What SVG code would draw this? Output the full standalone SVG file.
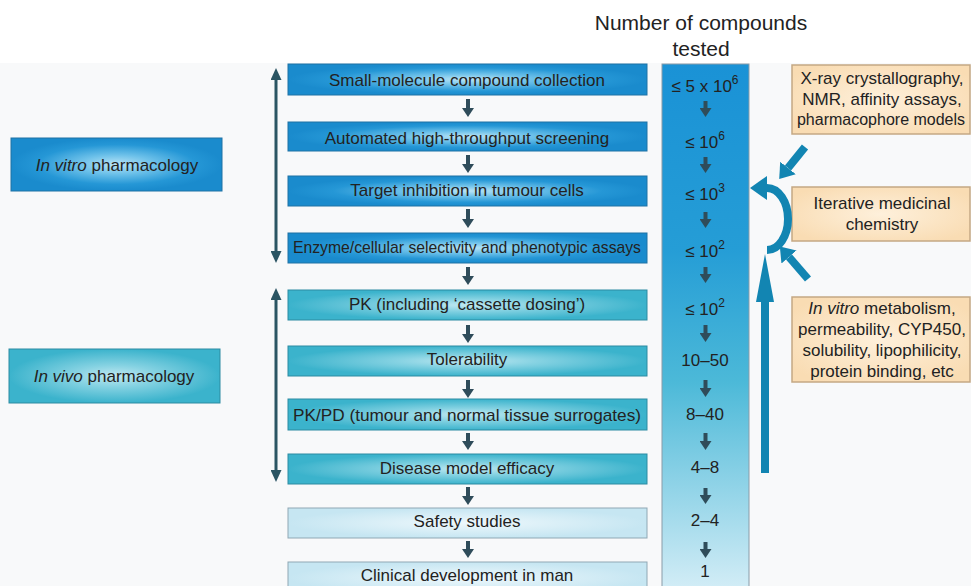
<svg xmlns="http://www.w3.org/2000/svg" width="971" height="586" viewBox="0 0 971 586">
<defs>
<radialGradient id="gVitro" cx="0.5" cy="0.5" r="0.5">
<stop offset="0" stop-color="#b9e4f6"/><stop offset="0.35" stop-color="#6fc2ea"/><stop offset="0.75" stop-color="#2597d6"/><stop offset="1" stop-color="#1a8bcd"/>
</radialGradient>
<radialGradient id="gVivo" cx="0.5" cy="0.5" r="0.5">
<stop offset="0" stop-color="#bfe8f1"/><stop offset="0.4" stop-color="#85d2e2"/><stop offset="1" stop-color="#3bb3cc"/>
</radialGradient>
<radialGradient id="gLight" cx="0.5" cy="0.5" r="0.5">
<stop offset="0" stop-color="#eef8fc"/><stop offset="1" stop-color="#c6e6f2"/>
</radialGradient>
<radialGradient id="gPeach" cx="0.5" cy="0.5" r="0.6">
<stop offset="0" stop-color="#fef0db"/><stop offset="1" stop-color="#f9dcb3"/>
</radialGradient>
<linearGradient id="gCol" x1="0" y1="0" x2="0" y2="1">
<stop offset="0" stop-color="#1a92d6"/><stop offset="0.35" stop-color="#259dd6"/><stop offset="0.6" stop-color="#4cb9d8"/><stop offset="1" stop-color="#d6eef7"/>
</linearGradient>
<marker id="mSmall" markerUnits="userSpaceOnUse" viewBox="0 0 9 12" markerWidth="9" markerHeight="12" refX="0" refY="6" orient="auto">
<path d="M0,0 L9,6 L0,12 z" fill="#2f4c5a"/>
</marker>
<marker id="mDbl" markerUnits="userSpaceOnUse" viewBox="0 0 12 11" markerWidth="12" markerHeight="11" refX="0" refY="5.5" orient="auto-start-reverse">
<path d="M0,0 L12,5.5 L0,11 z" fill="#2b5563"/>
</marker>
<marker id="mDiag" markerUnits="userSpaceOnUse" viewBox="0 0 14 20" markerWidth="14" markerHeight="20" refX="0" refY="10" orient="auto">
<path d="M0,0 L14,10 L0,20 z" fill="#1285b2"/>
</marker>
<marker id="mCurve" markerUnits="userSpaceOnUse" viewBox="0 0 17 24" markerWidth="17" markerHeight="24" refX="0" refY="12" orient="auto">
<path d="M0,0 L17,12 L0,24 z" fill="#1285b2"/>
</marker>
<marker id="mUp" markerUnits="userSpaceOnUse" viewBox="0 0 48 18" markerWidth="48" markerHeight="18" refX="0" refY="9" orient="auto">
<path d="M0,0 L48,9 L0,18 z" fill="#1285b2"/>
</marker>
</defs>
<style>
.t{font-family:"Liberation Sans",Arial,Helvetica,sans-serif;font-size:17px;fill:#222;text-anchor:middle}
.hd{font-size:21px}
.sup{font-size:12px}
.vitro{fill:url(#gVitro);stroke:#1f72a4;stroke-width:1}
.vivo{fill:url(#gVivo);stroke:#2c8ba1;stroke-width:1}
.light{fill:url(#gLight);stroke:#8fa8b4;stroke-width:1}
.peach{fill:url(#gPeach);stroke:#c4a884;stroke-width:1.5}
.col{fill:url(#gCol);stroke:#8a9ca8;stroke-width:1}
.arr{stroke:#2f4c5a;stroke-width:4;fill:none;marker-end:url(#mSmall)}
.dbl{stroke:#2b5563;stroke-width:3;fill:none;marker-start:url(#mDbl);marker-end:url(#mDbl)}
.big{stroke:#1285b2;stroke-width:8;fill:none}
</style>
<rect x="0" y="0" width="971" height="586" fill="#ffffff"/>
<rect x="0" y="63" width="971" height="523" fill="#f8f9fa"/>

<g id="header">
<text class="t hd" x="701" y="30">Number of compounds</text>
<text class="t hd" x="701" y="56">tested</text>
</g>

<g id="column">
<rect class="col" x="662" y="64" width="87" height="530"/>
<text class="t" x="705" y="92">≤ 5 x 10<tspan class="sup" dy="-8">6</tspan></text>
<text class="t" x="705" y="148">≤ 10<tspan class="sup" dy="-8">6</tspan></text>
<text class="t" x="705" y="200">≤ 10<tspan class="sup" dy="-8">3</tspan></text>
<text class="t" x="705" y="257">≤ 10<tspan class="sup" dy="-8">2</tspan></text>
<text class="t" x="705" y="315">≤ 10<tspan class="sup" dy="-8">2</tspan></text>
<text class="t" x="705" y="366">10–50</text>
<text class="t" x="705" y="420">8–40</text>
<text class="t" x="705" y="473">4–8</text>
<text class="t" x="705" y="526">2–4</text>
<text class="t" x="705" y="577">1</text>
</g>

<g id="in-vitro">
<rect class="vitro" x="11" y="138" width="211" height="53"/>
<text class="t" x="117" y="171"><tspan font-style="italic">In vitro</tspan> pharmacology</text>
</g>
<g id="in-vivo">
<rect class="vivo" x="9" y="349" width="211" height="54"/>
<text class="t" x="114" y="382"><tspan font-style="italic">In vivo</tspan> pharmacology</text>
</g>

<g id="step1"><rect class="vitro" x="288" y="64" width="359" height="31"/><text class="t" x="467" y="86">Small-molecule compound collection</text></g>
<g id="step2"><rect class="vitro" x="288" y="122" width="359" height="29"/><text class="t" x="467" y="144">Automated high-throughput screening</text></g>
<g id="step3"><rect class="vitro" x="288" y="176" width="359" height="30"/><text class="t" x="467" y="196">Target inhibition in tumour cells</text></g>
<g id="step4"><rect class="vitro" x="288" y="233" width="359" height="30"/><text class="t" x="467" y="253" textLength="348" lengthAdjust="spacingAndGlyphs">Enzyme/cellular selectivity and phenotypic assays</text></g>
<g id="step5"><rect class="vivo" x="288" y="290" width="359" height="30"/><text class="t" x="467" y="310">PK (including ‘cassette dosing’)</text></g>
<g id="step6"><rect class="vivo" x="288" y="346" width="359" height="30"/><text class="t" x="467" y="365">Tolerability</text></g>
<g id="step7"><rect class="vivo" x="288" y="399" width="359" height="31"/><text class="t" x="467" y="421" textLength="348" lengthAdjust="spacingAndGlyphs">PK/PD (tumour and normal tissue surrogates)</text></g>
<g id="step8"><rect class="vivo" x="288" y="454" width="359" height="30"/><text class="t" x="467" y="474">Disease model efficacy</text></g>
<g id="step9"><rect class="light" x="288" y="508" width="359" height="30"/><text class="t" x="467" y="527">Safety studies</text></g>
<g id="step10"><rect class="light" x="288" y="562" width="359" height="32"/><text class="t" x="467" y="581">Clinical development in man</text></g>

<g id="xray">
<rect class="peach" x="792" y="65" width="178" height="69"/>
<text class="t" x="882" y="84">X-ray crystallography,</text>
<text class="t" x="882" y="105">NMR, affinity assays,</text>
<text class="t" x="881" y="125" style="font-size:16px">pharmacophore models</text>
</g>
<g id="iterative">
<rect class="peach" x="792" y="187" width="178" height="54"/>
<text class="t" x="882" y="209">Iterative medicinal</text>
<text class="t" x="882" y="230">chemistry</text>
</g>
<g id="metabolism">
<rect class="peach" x="792" y="297" width="178" height="85"/>
<text class="t" x="882" y="314"><tspan font-style="italic">In vitro</tspan> metabolism,</text>
<text class="t" x="882" y="335">permeability, CYP450,</text>
<text class="t" x="882" y="356">solubility, lipophilicity,</text>
<text class="t" x="882" y="377">protein binding, etc</text>
</g>

<g id="connectors">
<line class="dbl" x1="276" y1="80" x2="276" y2="251"/>
<line class="dbl" x1="276" y1="300" x2="276" y2="470"/>
<line class="arr" x1="468" y1="99" x2="468" y2="108"/>
<line class="arr" x1="468" y1="155" x2="468" y2="164"/>
<line class="arr" x1="468" y1="209" x2="468" y2="219"/>
<line class="arr" x1="468" y1="267" x2="468" y2="276"/>
<line class="arr" x1="468" y1="325" x2="468" y2="334"/>
<line class="arr" x1="468" y1="380" x2="468" y2="389"/>
<line class="arr" x1="468" y1="433" x2="468" y2="441"/>
<line class="arr" x1="468" y1="487" x2="468" y2="496"/>
<line class="arr" x1="468" y1="541" x2="468" y2="549"/>
<line class="arr" x1="705.5" y1="101" x2="705.5" y2="108"/>
<line class="arr" x1="705.5" y1="157" x2="705.5" y2="164"/>
<line class="arr" x1="705.5" y1="212" x2="705.5" y2="219"/>
<line class="arr" x1="705.5" y1="267" x2="705.5" y2="274"/>
<line class="arr" x1="705.5" y1="325" x2="705.5" y2="333"/>
<line class="arr" x1="705.5" y1="380" x2="705.5" y2="388"/>
<line class="arr" x1="705.5" y1="433" x2="705.5" y2="441"/>
<line class="arr" x1="705.5" y1="488" x2="705.5" y2="495"/>
<line class="arr" x1="705.5" y1="542" x2="705.5" y2="549"/>
<path class="big" d="M767,250 A21,31 0 0 0 767,188" stroke-width="9" marker-end="url(#mCurve)"/>
<line class="big" x1="805" y1="147" x2="788" y2="168" marker-end="url(#mDiag)"/>
<line class="big" x1="808" y1="279" x2="789" y2="257" marker-end="url(#mDiag)"/>
<line class="big" x1="765" y1="473" x2="765" y2="302" stroke-width="7" marker-end="url(#mUp)"/>
</g>
</svg>
